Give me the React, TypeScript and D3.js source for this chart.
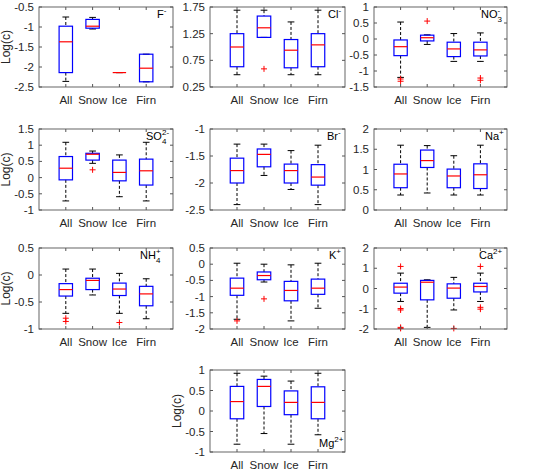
import React from 'react';
import { scaleLinear } from 'd3';

// box stats per category: [lower whisker, q1, median, q3, upper whisker]
const categories = ['All', 'Snow', 'Ice', 'Firn'];

const fBox = [[-2.36, -2.14, -1.37, -0.98, -0.75], [-1.05, -1.03, -0.98, -0.81, -0.76], [-2.14, -2.14, -2.14, -2.14, -2.14], [-2.37, -2.37, -2.03, -1.68, -1.68]];
const fOut: number[][] = [[], [], [], []];
const fTicks = [-2.5, -2, -1.5, -1, -0.5];

const clBox = [[0.48, 0.63, 1.0, 1.25, 1.69], [1.18, 1.18, 1.36, 1.58, 1.69], [0.48, 0.61, 0.94, 1.14, 1.47], [0.48, 0.63, 1.04, 1.25, 1.69]];
const clOut = [[], [0.59], [], []];
const clTicks = [0.25, 0.75, 1.25, 1.75];

const no3Box = [[-1.2, -0.52, -0.24, -0.03, 0.53], [-0.17, -0.06, 0.04, 0.12, 0.13], [-0.7, -0.55, -0.31, -0.1, 0.17], [-0.7, -0.53, -0.34, -0.1, 0.19]];
const no3Out = [[-1.25, -1.32], [0.56], [], [-1.22, -1.29]];
const no3Ticks = [-1.5, -1, -0.5, 0, 0.5, 1];

const so4Box = [[-0.72, -0.07, 0.29, 0.65, 1.09], [0.44, 0.54, 0.72, 0.75, 0.82], [-0.59, -0.1, 0.16, 0.54, 0.7], [-0.72, -0.23, 0.21, 0.57, 1.09]];
const so4Out = [[], [0.24], [], []];
const so4Ticks = [-1, -0.5, 0, 0.5, 1, 1.5];

const brBox = [[-2.4, -2.0, -1.77, -1.54, -1.28], [-1.86, -1.7, -1.47, -1.37, -1.28], [-2.12, -2.0, -1.77, -1.65, -1.4], [-2.4, -2.04, -1.89, -1.66, -1.3]];
const brOut: number[][] = [[], [], [], []];
const brTicks = [-2.5, -2, -1.5, -1];

const naBox = [[0.37, 0.55, 0.89, 1.13, 1.6], [0.42, 1.05, 1.22, 1.48, 1.59], [0.37, 0.55, 0.84, 1.01, 1.34], [0.37, 0.53, 0.87, 1.14, 1.6]];
const naOut: number[][] = [[], [], [], []];
const naTicks = [0, 0.5, 1, 1.5, 2];

const nh4Box = [[-0.71, -0.39, -0.27, -0.16, 0.11], [-0.37, -0.27, -0.1, -0.06, 0.11], [-0.71, -0.38, -0.26, -0.15, 0.03], [-0.81, -0.57, -0.35, -0.21, -0.07]];
const nh4Out = [[-0.8, -0.86], [], [-0.88], []];
const nh4Ticks = [-1, -0.5, 0, 0.5];

const kBox = [[-1.7, -0.96, -0.74, -0.43, 0.03], [-0.55, -0.48, -0.35, -0.24, 0.0], [-1.75, -1.13, -0.81, -0.53, -0.02], [-1.36, -0.93, -0.74, -0.46, 0.03]];
const kOut = [[-1.75], [-1.07], [], []];
const kTicks = [-2, -1.5, -1, -0.5, 0, 0.5];

const caBox = [[-0.64, -0.23, 0.07, 0.26, 0.76], [-1.92, -0.56, 0.31, 0.4, 0.43], [-1.06, -0.48, 0.02, 0.23, 0.55], [-0.64, -0.17, 0.1, 0.26, 0.76]];
const caOut = [[1.09, -0.99, -1.06, -1.92, -1.97], [], [-1.97], [1.09, -0.93, -1.02]];
const caTicks = [-2, -1, 0, 1, 2];

const mgBox = [[-0.81, -0.19, 0.23, 0.6, 0.92], [-0.55, 0.11, 0.6, 0.77, 0.85], [-0.81, -0.09, 0.21, 0.49, 0.73], [-0.58, -0.19, 0.21, 0.59, 0.92]];
const mgOut: number[][] = [[], [], [], []];
const mgTicks = [-1, -0.5, 0, 0.5, 1];

// layout
const cols = [[39, 173], [210, 345], [374, 507]];
const rows = [[7, 87], [129, 210], [248, 329], [370, 452]];

type Panel = {
  box: number[][]; out: number[][]; ticks: number[];
  col: number; row: number;
  base: string; sub?: string; sup: string; lx: number; bottom?: boolean;
};

const panels: Panel[] = [
  { box: fBox, out: fOut, ticks: fTicks, col: 0, row: 0, base: 'F', sup: '-', lx: 16 },
  { box: clBox, out: clOut, ticks: clTicks, col: 1, row: 0, base: 'Cl', sup: '-', lx: 17 },
  { box: no3Box, out: no3Out, ticks: no3Ticks, col: 2, row: 0, base: 'NO', sub: '3', sup: '-', lx: 26 },
  { box: so4Box, out: so4Out, ticks: so4Ticks, col: 0, row: 1, base: 'SO', sub: '4', sup: '2-', lx: 27 },
  { box: brBox, out: brOut, ticks: brTicks, col: 1, row: 1, base: 'Br', sup: '-', lx: 18 },
  { box: naBox, out: naOut, ticks: naTicks, col: 2, row: 1, base: 'Na', sup: '+', lx: 22 },
  { box: nh4Box, out: nh4Out, ticks: nh4Ticks, col: 0, row: 2, base: 'NH', sub: '4', sup: '+', lx: 33 },
  { box: kBox, out: kOut, ticks: kTicks, col: 1, row: 2, base: 'K', sup: '+', lx: 16 },
  { box: caBox, out: caOut, ticks: caTicks, col: 2, row: 2, base: 'Ca', sup: '2+', lx: 28 },
  { box: mgBox, out: mgOut, ticks: mgTicks, col: 1, row: 3, base: 'Mg', sup: '2+', lx: 26, bottom: true },
];

const axisColor = '#555';
const textColor = '#262626';
const font = '"Liberation Sans", Arial, sans-serif';

const BoxPanel = ({ p }: { p: Panel }) => {
  const [x0, x1] = cols[p.col];
  const [y0, y1] = rows[p.row];
  const x = scaleLinear().domain([0, 5]).range([x0, x1]);
  const y = scaleLinear().domain([p.ticks[0], p.ticks[p.ticks.length - 1]]).range([y1, y0]);
  const bw = x(0.25) - x(0);
  const cw = x(0.125) - x(0);
  const tl = 3;
  const ly = p.bottom ? y1 - 5 : y0 + 11;
  const lx = x1 - p.lx;
  return (
    <g>
      {p.box.map((s, i) => {
        const cx = x(i + 1);
        return (
          <g key={i}>
            <line x1={cx} x2={cx} y1={y(s[4])} y2={y(s[3])} stroke="#000" strokeDasharray="3,2" />
            <line x1={cx} x2={cx} y1={y(s[1])} y2={y(s[0])} stroke="#000" strokeDasharray="3,2" />
            <line x1={cx - cw} x2={cx + cw} y1={y(s[4])} y2={y(s[4])} stroke="#000" />
            <line x1={cx - cw} x2={cx + cw} y1={y(s[0])} y2={y(s[0])} stroke="#000" />
            <rect x={cx - bw} y={y(s[3])} width={2 * bw} height={Math.max(0, y(s[1]) - y(s[3]))} fill="none" stroke="#0000ff" strokeWidth={1.2} />
            <line x1={cx - bw} x2={cx + bw} y1={y(s[2])} y2={y(s[2])} stroke="#ff0000" strokeWidth={1.2} />
            {p.out[i].map((v, j) => (
              <g key={j} stroke="#ff0000">
                <line x1={cx - 3} x2={cx + 3} y1={y(v)} y2={y(v)} />
                <line x1={cx} x2={cx} y1={y(v) - 3} y2={y(v) + 3} />
              </g>
            ))}
          </g>
        );
      })}
      <rect x={x0} y={y0} width={x1 - x0} height={y1 - y0} fill="none" stroke={axisColor} strokeWidth={0.9} />
      {p.ticks.map(t => (
        <g key={t}>
          <line x1={x0} x2={x0 + tl} y1={y(t)} y2={y(t)} stroke={axisColor} />
          <line x1={x1} x2={x1 - tl} y1={y(t)} y2={y(t)} stroke={axisColor} />
          <text x={x0 - 5} y={y(t)} dy="0.35em" textAnchor="end" fontSize={11.5} fill={textColor}>{String(t)}</text>
        </g>
      ))}
      {categories.map((c, i) => (
        <g key={c}>
          <line x1={x(i + 1)} x2={x(i + 1)} y1={y1} y2={y1 - tl} stroke={axisColor} />
          <line x1={x(i + 1)} x2={x(i + 1)} y1={y0} y2={y0 + tl} stroke={axisColor} />
          <text x={x(i + 1)} y={y1 + 17} textAnchor="middle" fontSize={11.5} fill={textColor}>{c}</text>
        </g>
      ))}
      <text x={lx} y={ly} fontSize={11} fill="#000">
        {p.base}
        {p.sub ? <tspan fontSize={8} dy={4}>{p.sub}</tspan> : null}
        {p.sub
          ? <tspan fontSize={8} dx={-4.4} dy={-9}>{p.sup}</tspan>
          : <tspan fontSize={8} dy={-5}>{p.sup}</tspan>}
      </text>
      {p.col === 0 || p.bottom ? (
        <text transform={`translate(${x0 - 29},${(y0 + y1) / 2}) rotate(-90)`} textAnchor="middle" fontSize={12} fill={textColor}>Log(c)</text>
      ) : null}
    </g>
  );
};

export default function App() {
  return (
    <svg width={533} height={472} style={{ position: 'absolute', left: 0, top: 0, background: '#fff', fontFamily: font }}>
      {panels.map((p, i) => <BoxPanel key={i} p={p} />)}
    </svg>
  );
}
